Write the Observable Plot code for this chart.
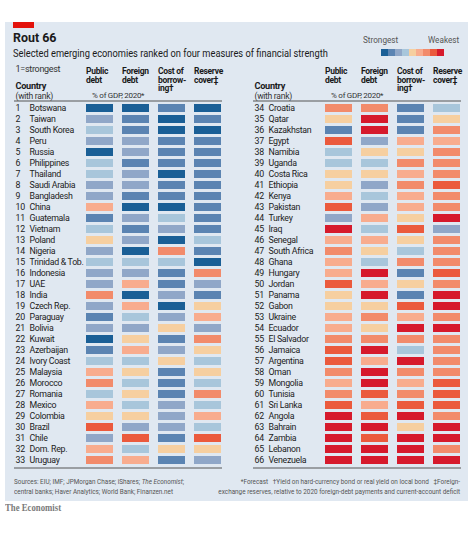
<!DOCTYPE html>
<html>
<head>
<meta charset="utf-8">
<script src="https://cdn.jsdelivr.net/npm/d3@7"></script>
<script src="https://cdn.jsdelivr.net/npm/@observablehq/plot@0.6"></script>
<style>
  html, body { margin: 0; padding: 0; background: #ffffff; }
  #page { position: relative; width: 474px; height: 536px; overflow: hidden; font-family: "Roboto", sans-serif; color: #1a1a1a; }
  #panel { position: absolute; left: 5px; top: 21.5px; width: 463px; height: 479px; background: #e0e8f1; }
  #redbar { position: absolute; left: 13px; top: 21.5px; width: 21px; height: 6.5px; background: #e3120b; }
  .abs { position: absolute; white-space: nowrap; line-height: 1; }
  .sx { transform-origin: left center; }
  .sxr { transform-origin: right center; }
  #title { left: 13px; top: 31px; font-size: 13.5px; font-weight: bold; transform: scaleX(0.92); }
  #subtitle { left: 13px; top: 47.5px; font-size: 11px; transform: scaleX(0.845); }
  #legendbar { position: absolute; left: 381px; top: 49px; height: 6.5px; display: flex; }
  #legendbar div { width: 7px; height: 6.5px; }
  .leglab { font-size: 9.5px; color: #555; top: 35px; transform: scaleX(0.86); }
  #chart { position: absolute; left: 0; top: 60px; }
  .foot { font-size: 7.4px; color: #555; transform: scaleX(0.86); }
  #brand { left: 5px; top: 504px; font-family: "Liberation Serif", "DejaVu Serif", serif; font-size: 9.5px; color: #7a7a7a; font-weight: bold; transform: scaleX(0.92); }
</style>
</head>
<body>
<div id="page">
  <div id="panel"></div>
  <div id="redbar"></div>
  <div id="title" class="abs sx">Rout 66</div>
  <div id="subtitle" class="abs sx">Selected emerging economies ranked on four measures of financial strength</div>
  <div class="abs leglab sx" style="left:363px">Strongest</div>
  <div class="abs leglab sx" style="left:428px">Weakest</div>
  <div id="legendbar"></div>
  <div id="chart"></div>
  <div class="abs foot sx" style="left:14px; top:478px">Sources: EIU; IMF; JPMorgan Chase; iShares; <i>The Economist</i>;</div>
  <div class="abs foot sx" style="left:14px; top:488px">central banks; Haver Analytics; World Bank; Finanzen.net</div>
  <div class="abs foot sxr" style="right:14px; top:478px">*Forecast &nbsp;&nbsp;†Yield on hard-currency bond or real yield on local bond &nbsp;&nbsp;‡Foreign-</div>
  <div class="abs foot sxr" style="right:14px; top:488px">exchange reserves, relative to 2020 foreign-debt payments and current-account deficit</div>
  <div id="brand" class="abs sx">The Economist</div>
</div>
<script>
// ---- Data (1 = strongest ... 9 = weakest colour band) ----
const countries = [
  "Botswana","Taiwan","South Korea","Peru","Russia","Philippines","Thailand","Saudi Arabia","Bangladesh","China",
  "Guatemala","Vietnam","Poland","Nigeria","Trinidad & Tob.","Indonesia","UAE","India","Czech Rep.","Paraguay",
  "Bolivia","Kuwait","Azerbaijan","Ivory Coast","Malaysia","Morocco","Romania","Mexico","Colombia","Brazil",
  "Chile","Dom. Rep.","Uruguay",
  "Croatia","Qatar","Kazakhstan","Egypt","Namibia","Uganda","Costa Rica","Ethiopia","Kenya","Pakistan",
  "Turkey","Iraq","Senegal","South Africa","Ghana","Hungary","Jordan","Panama","Gabon","Ukraine",
  "Ecuador","El Salvador","Jamaica","Argentina","Oman","Mongolia","Tunisia","Sri Lanka","Angola","Bahrain",
  "Zambia","Lebanon","Venezuela"
];
const publicDebt = [
  1,3,4,3,1,4,4,3,3,6, 2,4,5,3,4,3,3,7,3,2, 3,1,2,4,6,7,4,6,5,8, 3,6,7,
  7,5,2,8,4,4,5,5,6,8, 3,9,6,7,6,6,8,5,5,6, 6,7,8,8,7,6,7,8,9,9, 9,9,9
];
const foreignDebt = [
  1,2,2,3,3,2,3,3,2,1, 3,2,3,1,4,3,6,1,6,4, 3,5,6,4,5,4,5,4,5,3, 8,4,6,
  7,9,9,3,5,4,5,3,4,3, 6,4,6,5,4,9,6,9,5,7, 5,7,9,6,9,9,8,6,8,9, 8,9,9
];
const borrowingCost = [
  2,1,1,2,2,2,1,2,2,1, 4,3,1,7,4,2,2,3,1,3, 5,2,3,5,2,2,2,3,3,3, 2,5,2,
  2,2,2,6,5,7,6,7,6,6, 5,8,5,4,7,2,5,2,8,6, 9,7,4,9,7,6,7,8,9,5, 9,9,9
];
const reserveCover = [
  1,2,1,2,2,2,2,2,2,2, 2,2,4,2,1,7,3,2,5,6, 3,7,5,4,5,4,7,4,6,4, 8,5,3,
  4,5,7,6,7,7,7,8,7,7, 9,3,7,7,7,8,7,9,9,7, 9,7,7,7,7,8,8,8,7,9, 9,7,9
];
const measures = ["Public debt", "Foreign debt", "Cost of borrowing", "Reserve cover"];
const headerLabels = ["Public\ndebt", "Foreign\ndebt", "Cost of\nborrow-\ning†", "Reserve\ncover‡"];
const levels = [1,2,3,4,5,6,7,8,9];
const palette = ["#1a5f96","#5b84b2","#90a7c8","#a8c6db","#f6cfa0","#f8ac8e","#f28b6b","#eb5a3d","#d61a2c"];
const halves = ["L", "R"];

// ---- Tables for Plot ----
const series = [publicDebt, foreignDebt, borrowingCost, reserveCover];
const rows = countries.map((name, i) => ({rank: i + 1, name, half: i < 33 ? "L" : "R", row: i % 33}));
const cells = rows.flatMap((r, i) => measures.map((m, j) => ({...r, measure: m, level: series[j][i]})));
const headers = halves.flatMap(h => measures.map((m, j) => ({half: h, measure: m, label: headerLabels[j]})));
const sideHeads = halves.map(h => ({half: h}));

// legend swatches
const lb = document.getElementById("legendbar");
palette.forEach(c => { const d = document.createElement("div"); d.style.background = c; lb.appendChild(d); });

const chart = Plot.plot({
  width: 474,
  height: 412,
  marginLeft: 13,
  marginRight: 13,
  marginTop: 40.5,
  marginBottom: 4.5,
  style: {background: "transparent", fontFamily: "Roboto, sans-serif", fontSize: "8.8px", letterSpacing: "-0.3px", color: "#1a1a1a", overflow: "visible"},
  fx: {domain: halves, paddingInner: 0.1333, paddingOuter: 0, axis: null, label: null},
  x: {domain: measures, range: [79.3, 224.9], paddingInner: 0.258, paddingOuter: 0.129, axis: null},
  y: {domain: d3.range(33), paddingInner: 0.28, paddingOuter: 0.14, axis: null},
  color: {type: "ordinal", domain: levels, range: palette},
  marks: [
    Plot.cell(cells, {fx: "half", x: "measure", y: "row", fill: "level", inset: 0}),
    Plot.text(rows, {fx: "half", y: "row", text: d => String(d.rank), frameAnchor: "left", textAnchor: "start", dx: 1, fill: "#222"}),
    Plot.text(rows, {fx: "half", y: "row", text: "name", frameAnchor: "left", textAnchor: "start", dx: 15, fill: "#222"}),
    Plot.frame({anchor: "top", stroke: "#555", strokeWidth: 1}),
    Plot.frame({anchor: "bottom", stroke: "#555", strokeWidth: 1}),
    Plot.text(headers, {fx: "half", x: "measure", text: "label", frameAnchor: "top", lineAnchor: "top", textAnchor: "start", dx: -14, dy: -33, lineHeight: 1.0, fontWeight: "bold", fontSize: 8.5, fill: "#1a1a1a"}),
    Plot.text(sideHeads, {fx: "half", x: () => "Public debt", text: () => "% of GDP, 2020*", frameAnchor: "top", dx: 18.2, dy: -8.5, fontSize: 8, fill: "#333"}),
    Plot.text(sideHeads, {fx: "half", text: () => "Country", frameAnchor: "top-left", textAnchor: "start", dx: 1, dy: -18.5, fontWeight: "bold", fontSize: 9.2, fill: "#1a1a1a"}),
    Plot.text(sideHeads, {fx: "half", text: () => "(with rank)", frameAnchor: "top-left", textAnchor: "start", dx: 1, dy: -8.5, fontSize: 8.6, fill: "#333"}),
    Plot.text(sideHeads.slice(0, 1), {fx: "half", text: () => "1=strongest", frameAnchor: "top-left", textAnchor: "start", dx: 1, dy: -35.5, fontSize: 9, fill: "#333"})
  ]
});
document.getElementById("chart").appendChild(chart);
</script>
</body>
</html>
